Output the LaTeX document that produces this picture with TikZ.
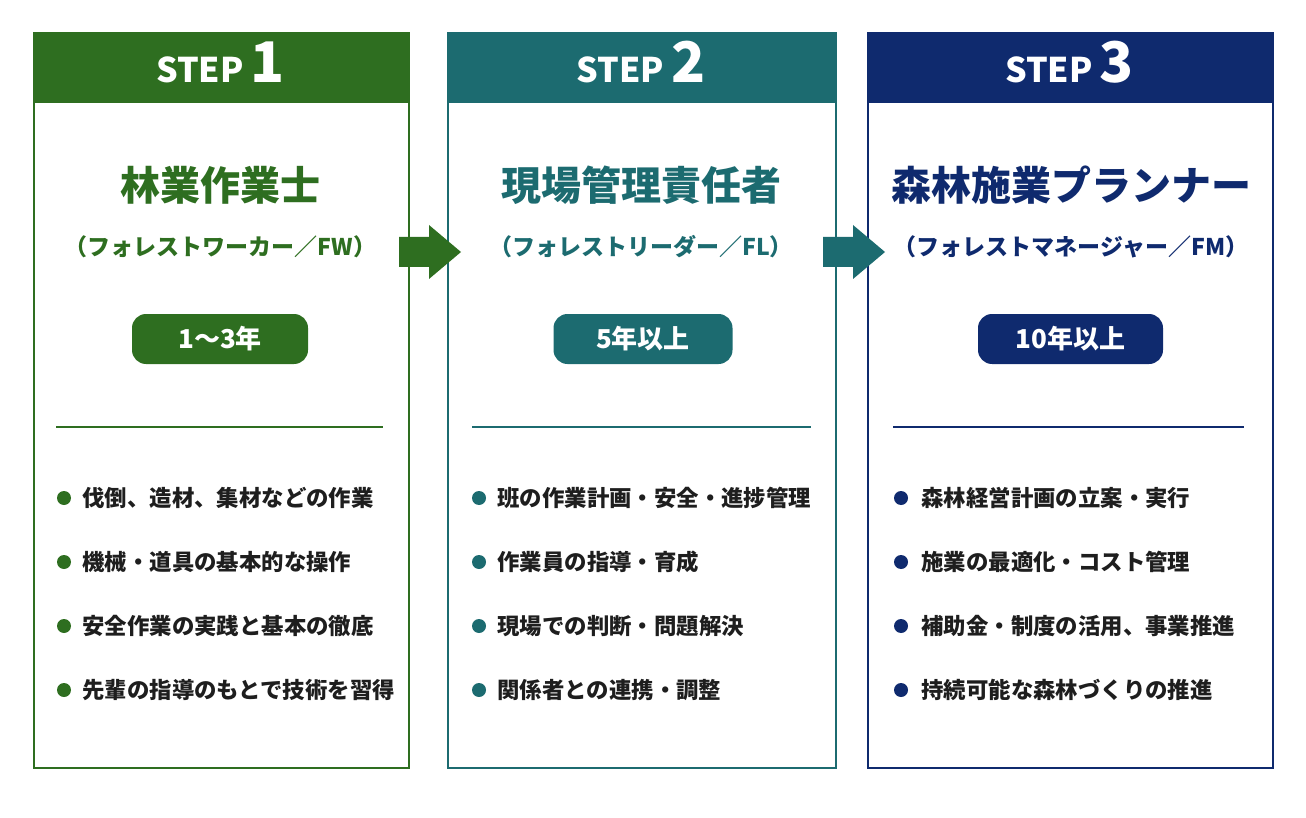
\documentclass[tikz,border=0pt]{standalone}
\usepackage{fontspec}
\setmainfont{Noto Sans CJK JP}
\usetikzlibrary{positioning}

\definecolor{forestgreen}{HTML}{2E6E20}
\definecolor{leaderteal}{HTML}{1C6B70}
\definecolor{managernavy}{HTML}{0F2A6E}
\definecolor{bodytext}{HTML}{1E1E1E}

\tikzset{
  panel/.style={draw=#1, line width=1.5pt, inner sep=0pt, anchor=north west,
    minimum height=735pt},
  headtxt/.style={white, anchor=base, font=\bfseries\fontsize{34}{36}\selectfont},
  roletitle/.style={#1, font=\bfseries\fontsize{40}{44}\selectfont},
  rolesub/.style={#1, font=\bfseries\fontsize{23}{26}\selectfont},
  pill/.style={fill=#1, rounded corners=14pt, minimum width=176pt, minimum height=50pt,
    text=white, font=\bfseries\fontsize{26}{28}\selectfont},
  rule/.style={draw=#1, line width=1.5pt},
  dot/.style={circle, fill=#1, minimum size=14pt, inner sep=0pt},
  item/.style={bodytext, inner sep=0pt, font=\bfseries\fontsize{22.4}{26}\selectfont}
}
\newcommand{\bignum}[1]{\hspace{7pt}{\fontsize{56}{56}\selectfont #1}}
% block arrow from a start coordinate, pointing right
\newcommand{\steparrow}[2]{%
  \fill[#1] (#2) ++(0,-15) -- ++(30,0) -- ++(0,-12) -- ++(32,27)
    -- ++(-32,27) -- ++(0,-12) -- ++(-30,0) -- cycle;}

\begin{document}
\begin{tikzpicture}[x=1pt, y=-1pt]
  \useasboundingbox (0,0) rectangle (1306,818);

  % step 1
  \node[panel=forestgreen, minimum width=375pt] (box1) at (33,32) {};
  \fill[forestgreen] (box1.north west) rectangle ([yshift=-71pt]box1.north east);
  \node[headtxt] (head1) at (220.5,83) {STEP\bignum{1}};
  \node[roletitle=forestgreen] (title1) at (220.5,185) {林業作業士};
  \node[rolesub=forestgreen] (sub1) at (220.5,247) {（フォレストワーカー／FW）};
  \node[pill=forestgreen] (yr1) at (220,339) {1〜3年};
  \draw[rule=forestgreen] (56,427) -- (383,427);
  \node[dot=forestgreen] (d11) at (64,498) {};
  \node[dot=forestgreen] (d12) at (64,562) {};
  \node[dot=forestgreen] (d13) at (64,626) {};
  \node[dot=forestgreen] (d14) at (64,690) {};
  \node[item, right=11pt of d11] (t11) {伐倒、造材、集材などの作業};
  \node[item, right=11pt of d12] (t12) {機械・道具の基本的な操作};
  \node[item, right=11pt of d13] (t13) {安全作業の実践と基本の徹底};
  \node[item, right=11pt of d14] (t14) {先輩の指導のもとで技術を習得};

  % step 2
  \node[panel=leaderteal, minimum width=388pt] (box2) at (447,32) {};
  \fill[leaderteal] (box2.north west) rectangle ([yshift=-71pt]box2.north east);
  \node[headtxt] (head2) at (641,83) {STEP\bignum{2}};
  \node[roletitle=leaderteal] (title2) at (641,185) {現場管理責任者};
  \node[rolesub=leaderteal] (sub2) at (641,247) {（フォレストリーダー／FL）};
  \node[pill=leaderteal, minimum width=179pt] (yr2) at (643,339) {5年以上};
  \draw[rule=leaderteal] (472,427) -- (811,427);
  \node[dot=leaderteal] (d21) at (479,498) {};
  \node[dot=leaderteal] (d22) at (479,562) {};
  \node[dot=leaderteal] (d23) at (479,626) {};
  \node[dot=leaderteal] (d24) at (479,690) {};
  \node[item, right=11pt of d21] (t21) {班の作業計画・安全・進捗管理};
  \node[item, right=11pt of d22] (t22) {作業員の指導・育成};
  \node[item, right=11pt of d23] (t23) {現場での判断・問題解決};
  \node[item, right=11pt of d24] (t24) {関係者との連携・調整};

  % step 3
  \node[panel=managernavy, minimum width=405pt] (box3) at (867,32) {};
  \fill[managernavy] (box3.north west) rectangle ([yshift=-71pt]box3.north east);
  \node[headtxt] (head3) at (1069.5,83) {STEP\bignum{3}};
  \node[roletitle=managernavy] (title3) at (1071,185) {森林施業プランナー};
  \node[rolesub=managernavy] (sub3) at (1071,247) {（フォレストマネージャー／FM）};
  \node[pill=managernavy, minimum width=185pt] (yr3) at (1070.5,339) {10年以上};
  \draw[rule=managernavy] (893,427) -- (1244,427);
  \node[dot=managernavy] (d31) at (901,498) {};
  \node[dot=managernavy] (d32) at (901,562) {};
  \node[dot=managernavy] (d33) at (901,626) {};
  \node[dot=managernavy] (d34) at (901,690) {};
  \node[item, right=13pt of d31] (t31) {森林経営計画の立案・実行};
  \node[item, right=13pt of d32] (t32) {施業の最適化・コスト管理};
  \node[item, right=13pt of d33] (t33) {補助金・制度の活用、事業推進};
  \node[item, right=13pt of d34] (t34) {持続可能な森林づくりの推進};

  % arrows between steps
  \coordinate (arr1) at (399,252);
  \coordinate (arr2) at (823,252);
  \steparrow{forestgreen}{arr1}
  \steparrow{leaderteal}{arr2}
\end{tikzpicture}
\end{document}
